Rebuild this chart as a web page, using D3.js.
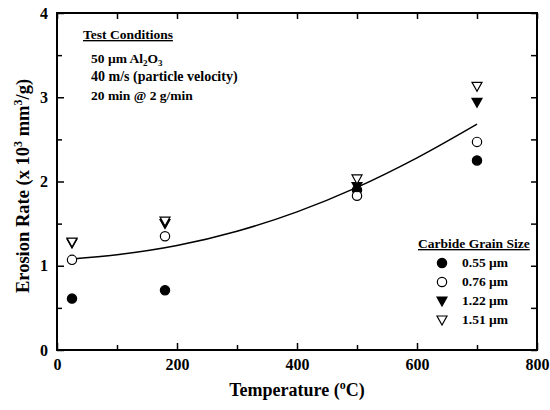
<!DOCTYPE html>
<html>
<head>
<meta charset="utf-8">
<script src="https://cdn.jsdelivr.net/npm/d3@7"></script>
<style>
  body { margin: 0; background: #fff; }
</style>
</head>
<body>
<script>
const width = 550;
const height = 410;
const margin = {top: 13, right: 13, bottom: 60, left: 57};

// temperatures (deg C) where samples were tested
const temps = [25, 180, 500, 700];
// erosion rate, x10^3 mm^3/g, one array per carbide grain size
const g055 = [0.61, 0.71, 1.90, 2.25];
const g076 = [1.07, 1.35, 1.83, 2.47];
const g122 = [1.27, 1.50, 1.94, 2.94];
const g151 = [1.28, 1.53, 2.03, 3.13];
// trend line
const fitT = [25, 100, 200, 300, 400, 500, 600, 700];
const fitY = [1.08, 1.13, 1.24, 1.41, 1.64, 1.93, 2.28, 2.68];

const xTicks = [0, 200, 400, 600, 800];
const xMinor = [100, 300, 500, 700];
const yTicks = [0, 1, 2, 3, 4];
const yMinor = [0.5, 1.5, 2.5, 3.5];

const series = [
  {name: '0.55 \u00b5m', vals: g055, shape: 'circle', fill: '#000'},
  {name: '0.76 \u00b5m', vals: g076, shape: 'circle', fill: '#fff'},
  {name: '1.22 \u00b5m', vals: g122, shape: 'tri', fill: '#000'},
  {name: '1.51 \u00b5m', vals: g151, shape: 'tri', fill: '#fff'}
];

const FONT = '"Liberation Serif", "Times New Roman", serif';

const svg = d3.select('body').append('svg')
  .attr('width', width)
  .attr('height', height);

const x = d3.scaleLinear().domain([0, 800]).range([margin.left, width - margin.right]);
const y = d3.scaleLinear().domain([0, 4]).range([height - margin.bottom, margin.top]);

const x0 = margin.left, x1 = width - margin.right, y0 = height - margin.bottom, y1 = margin.top;

function styleAxis(g) {
  g.attr('font-family', null).attr('font-size', null);
  g.selectAll('.domain').remove();
  g.selectAll('line').attr('stroke', '#000').attr('stroke-width', 1.5);
  g.selectAll('text').style('font-size', '16px');
}

// major + minor ticks, all pointing into the plot
svg.append('g').attr('transform', `translate(0,${y0})`)
  .call(d3.axisBottom(x).tickValues(xTicks).tickSize(-7).tickPadding(9).tickFormat(d3.format('d')))
  .call(styleAxis);
svg.append('g').attr('transform', `translate(0,${y0})`)
  .call(d3.axisBottom(x).tickValues(xMinor).tickSize(-5).tickFormat(''))
  .call(styleAxis);
svg.append('g').attr('transform', `translate(0,${y1})`)
  .call(d3.axisTop(x).tickValues(xTicks.concat(xMinor)).tickSize(-6).tickFormat(''))
  .call(styleAxis);
svg.append('g').attr('transform', `translate(${x0},0)`)
  .call(d3.axisLeft(y).tickValues(yTicks).tickSize(-7).tickPadding(9).tickFormat(d3.format('d')))
  .call(styleAxis);
svg.append('g').attr('transform', `translate(${x0},0)`)
  .call(d3.axisLeft(y).tickValues(yMinor).tickSize(-5).tickFormat(''))
  .call(styleAxis);
svg.append('g').attr('transform', `translate(${x1},0)`)
  .call(d3.axisRight(y).tickValues(yTicks.concat(yMinor)).tickSize(-6).tickFormat(''))
  .call(styleAxis);

// frame
svg.append('rect')
  .attr('x', x0).attr('y', y1)
  .attr('width', x1 - x0).attr('height', y0 - y1)
  .attr('fill', 'none').attr('stroke', '#000').attr('stroke-width', 2);

// trend line
const line = d3.line()
  .x((d, i) => x(fitT[i]))
  .y(d => y(d))
  .curve(d3.curveCatmullRom);
svg.append('path')
  .datum(fitY)
  .attr('d', line)
  .attr('fill', 'none')
  .attr('stroke', '#000')
  .attr('stroke-width', 1.5);

const circleSym = d3.symbol().type(d3.symbolCircle).size(68);
const triPath = 'M-5,-4L5,-4L0,5Z';

function drawMark(g, s, cx, cy) {
  return g.append('path')
    .attr('transform', `translate(${cx},${cy})`)
    .attr('d', s.shape === 'circle' ? circleSym() : triPath)
    .attr('fill', s.fill)
    .attr('stroke', '#000')
    .attr('stroke-width', 1.2);
}

const marks = svg.append('g');
series.forEach(s => {
  s.vals.forEach((v, i) => drawMark(marks, s, x(temps[i]), y(v)));
});

// test conditions note
const note = svg.append('g').style('font-size', '13.5px');
note.append('text').attr('x', 83).attr('y', 39)
  .style('text-decoration', 'underline').text('Test Conditions');
const l1 = note.append('text').attr('x', 91).attr('y', 63);
l1.append('tspan').text('50 \u00b5m Al');
l1.append('tspan').attr('dy', 3).style('font-size', '9px').text('2');
l1.append('tspan').attr('dy', -3).text('O');
l1.append('tspan').attr('dy', 3).style('font-size', '9px').text('3');
note.append('text').attr('x', 91).attr('y', 81).style('font-size', '14px').text('40 m/s (particle velocity)');
note.append('text').attr('x', 91).attr('y', 100).text('20 min @ 2 g/min');

// legend
const leg = svg.append('g').style('font-size', '13.5px');
leg.append('text').attr('x', 418).attr('y', 248)
  .style('text-decoration', 'underline').text('Carbide Grain Size');
series.forEach((s, i) => {
  const ly = 263 + i * 19;
  drawMark(leg, s, 442, ly);
  leg.append('text').attr('x', 462).attr('y', ly + 4).text(s.name);
});

// axis titles
const xt = svg.append('text')
  .attr('x', (x0 + x1) / 2).attr('y', 396)
  .attr('text-anchor', 'middle')
  .style('font-size', '18px');
xt.append('tspan').text('Temperature (');
xt.append('tspan').attr('dy', -7).style('font-size', '12px').text('o');
xt.append('tspan').attr('dy', 7).text('C)');

const yt = svg.append('text')
  .attr('transform', `translate(29,186) rotate(-90)`)
  .attr('text-anchor', 'middle')
  .style('font-size', '18.5px');
yt.append('tspan').text('Erosion Rate (x 10');
yt.append('tspan').attr('dy', -7).style('font-size', '12px').text('3');
yt.append('tspan').attr('dy', 7).text(' mm');
yt.append('tspan').attr('dy', -7).style('font-size', '12px').text('3');
yt.append('tspan').attr('dy', 7).text('/g)');

svg.selectAll('text')
  .style('font-family', FONT)
  .style('font-weight', 'bold')
  .attr('fill', '#000');
</script>
</body>
</html>
